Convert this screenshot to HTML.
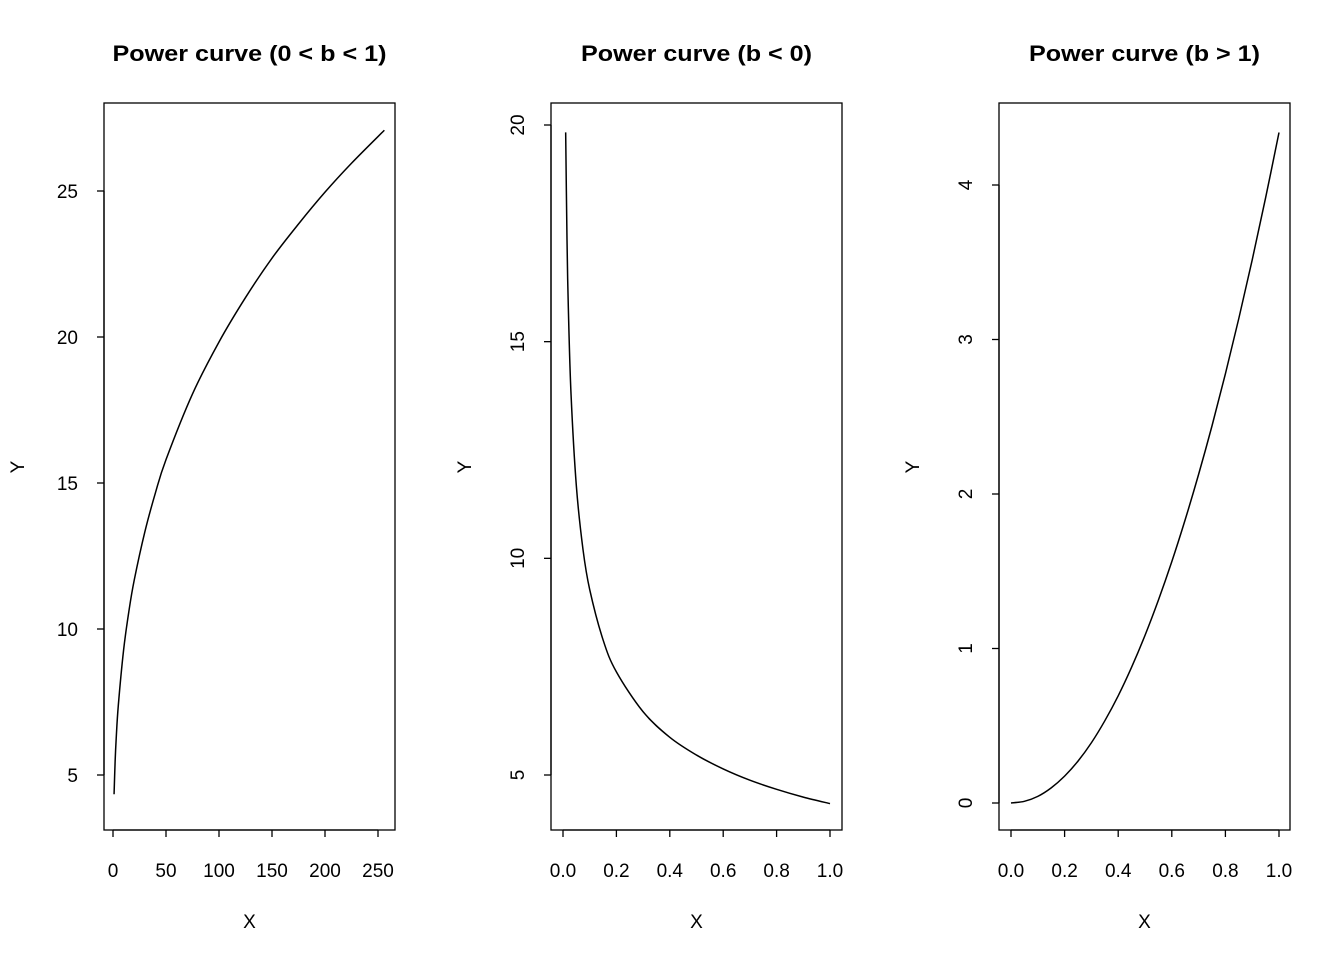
<!DOCTYPE html>
<html><head><meta charset="utf-8"><style>
body{margin:0;background:#fff;}
svg text{font-family:"Liberation Sans",Arial,sans-serif;fill:#000;}
</style></head><body>
<svg id="c" width="1344" height="960" xmlns="http://www.w3.org/2000/svg"></svg>
<script>
// Panel 1 data (0 < b < 1)
const p1X = [1,2,3,5,10,15,20,30,40,50,75,100,125,150,175,200,225,256];
const p1Y = [4.34,5.46,6.24,7.38,9.28,10.61,11.67,13.32,14.66,15.80,18.05,19.83,21.35,22.70,23.87,24.96,25.95,27.08];
const p1XTicks = [0,50,100,150,200,250];
const p1YTicks = [5,10,15,20,25];
// Panel 2 data (b < 0)
const p2X = [0.01,0.015,0.02,0.03,0.05,0.075,0.1,0.15,0.2,0.3,0.4,0.5,0.6,0.7,0.8,0.9,1.0];
const p2Y = [19.83,17.36,15.78,13.80,11.67,10.20,9.28,8.12,7.38,6.46,5.87,5.46,5.14,4.88,4.67,4.49,4.34];
const p2XTicks = [0,0.2,0.4,0.6,0.8,1.0];
const p2YTicks = [5,10,15,20];
// Panel 3 data (b > 1)
const p3X = [0,0.05,0.1,0.15,0.2,0.25,0.3,0.35,0.4,0.45,0.5,0.55,0.6,0.65,0.7,0.75,0.8,0.85,0.9,0.95,1.0];
const p3Y = [0,0.011,0.043,0.098,0.174,0.271,0.39,0.532,0.694,0.879,1.085,1.313,1.562,1.834,2.127,2.441,2.778,3.136,3.515,3.917,4.34];
const p3XTicks = [0,0.2,0.4,0.6,0.8,1.0];
const p3YTicks = [0,1,2,3,4];

const NS="http://www.w3.org/2000/svg";
const svg=document.getElementById('c');
function mk(tag,attrs,parent){const e=document.createElementNS(NS,tag);for(const k in attrs)e.setAttribute(k,attrs[k]);(parent||svg).appendChild(e);return e;}

function smoothPath(pts){
  let d='M'+pts[0][0].toFixed(2)+','+pts[0][1].toFixed(2);
  for(let i=0;i<pts.length-1;i++){
    const p0=pts[Math.max(i-1,0)],p1=pts[i],p2=pts[i+1],p3=pts[Math.min(i+2,pts.length-1)];
    const c1=[p1[0]+(p2[0]-p0[0])/6,p1[1]+(p2[1]-p0[1])/6];
    const c2=[p2[0]-(p3[0]-p1[0])/6,p2[1]-(p3[1]-p1[1])/6];
    d+=' C'+c1.map(v=>v.toFixed(2)).join(',')+' '+c2.map(v=>v.toFixed(2)).join(',')+' '+p2[0].toFixed(2)+','+p2[1].toFixed(2);
  }
  return d;
}

function panel(o){
  const g=mk('g',{});
  
  
  const sx=v=>o.px0+(v-o.x0)*(o.px1-o.px0)/(o.x1-o.x0);
  const sy=v=>o.py0+(v-o.y0)*(o.py1-o.py0)/(o.y1-o.y0);
  const box=mk('rect',{x:o.bx,y:103,width:291,height:727,fill:'none',stroke:'#000','stroke-width':1.3},g);
  
  
  const t=mk('text',{x:o.bx+145.5,y:61,'text-anchor':'middle','font-size':'22','font-weight':'bold',textLength:o.tw,lengthAdjust:'spacingAndGlyphs'},g);
  t.textContent=o.title;
  
  
  const xa=mk('g',{},g);
  
  
  mk('line',{x1:sx(o.xt[0]),x2:sx(o.xt[o.xt.length-1]),y1:830,y2:830,stroke:'#000','stroke-width':1.3},xa);
  o.xt.forEach(v=>{
    mk('line',{x1:sx(v),x2:sx(v),y1:830,y2:837,stroke:'#000','stroke-width':1.3},xa);
    const l=mk('text',{x:sx(v),y:877,'text-anchor':'middle','font-size':'19'},xa);
    l.textContent=o.xfmt(v);
    
    
  });
  const xl=mk('text',{x:o.bx+145.5,y:928,'text-anchor':'middle','font-size':'19'},g);
  xl.textContent='X';
  
  
  const ya=mk('g',{},g);
  
  
  mk('line',{x1:o.bx,x2:o.bx,y1:sy(o.yt[0]),y2:sy(o.yt[o.yt.length-1]),stroke:'#000','stroke-width':1.3},ya);
  o.yt.forEach(v=>{
    mk('line',{x1:o.bx,x2:o.bx-7,y1:sy(v),y2:sy(v),stroke:'#000','stroke-width':1.3},ya);
    let l;
    if(o.horiz){l=mk('text',{x:o.bx-26,y:sy(v)+7,'text-anchor':'end','font-size':'19'},ya);}
    else{const xx=o.bx-27,yy=sy(v);l=mk('text',{x:xx,y:yy,'text-anchor':'middle','font-size':'19',transform:`rotate(-90 ${xx} ${yy})`},ya);}
    l.textContent=String(v);
    
    
  });
  const yx=o.bx-80,yy=467;
  const yl=mk('text',{x:yx,y:yy,'text-anchor':'middle','font-size':'19',transform:`rotate(-90 ${yx} ${yy})`},g);
  yl.textContent='Y';
  
  
  const pts=o.xs.map((v,i)=>[sx(v),sy(o.ys[i])]);
  const p=mk('path',{d:smoothPath(pts),fill:'none',stroke:'#000','stroke-width':1.5,'stroke-linejoin':'round'},g);
  
  
}
panel({name:'panel-b-between-0-1',title:'Power curve (0 < b < 1)',tw:274,bx:104,x0:0,x1:250,px0:113,px1:378,y0:5,y1:25,py0:775,py1:191,xt:p1XTicks,yt:p1YTicks,xs:p1X,ys:p1Y,xfmt:v=>String(v),horiz:true});
panel({name:'panel-b-negative',title:'Power curve (b < 0)',tw:231,bx:551,x0:0,x1:1,px0:563,px1:830,y0:5,y1:20,py0:775,py1:125,xt:p2XTicks,yt:p2YTicks,xs:p2X,ys:p2Y,xfmt:v=>v.toFixed(1),horiz:false});
panel({name:'panel-b-greater-1',title:'Power curve (b > 1)',tw:231,bx:999,x0:0,x1:1,px0:1011,px1:1279,y0:0,y1:4,py0:803,py1:185,xt:p3XTicks,yt:p3YTicks,xs:p3X,ys:p3Y,xfmt:v=>v.toFixed(1),horiz:false});
</script>
</body></html>
